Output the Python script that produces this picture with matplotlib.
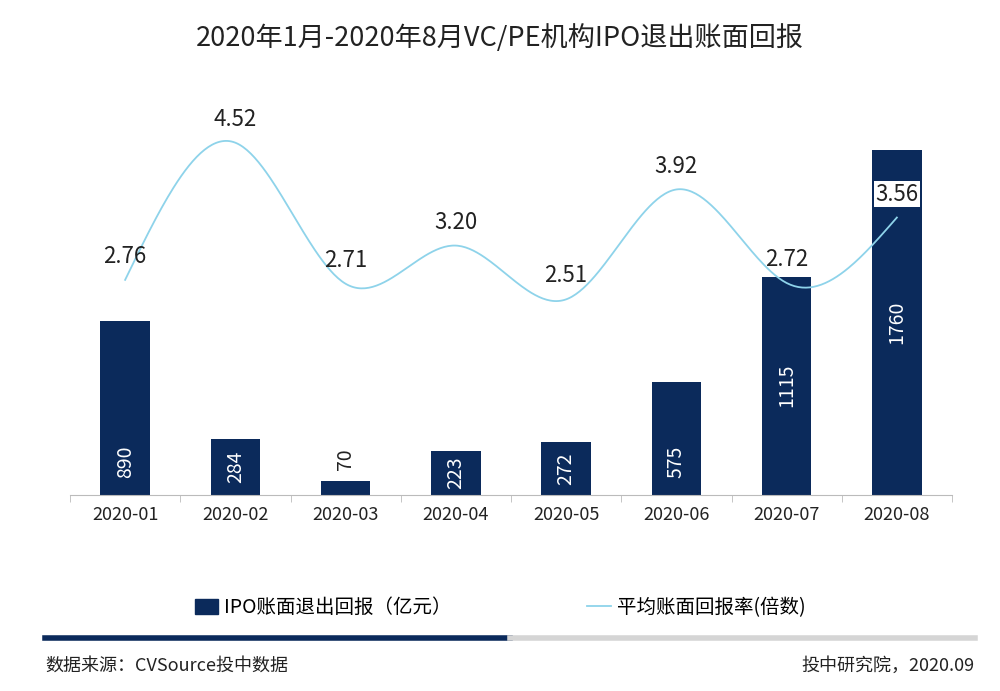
import numpy as np
import matplotlib
matplotlib.use("Agg")
import matplotlib.pyplot as plt
from matplotlib.lines import Line2D
from matplotlib.patches import Patch

plt.rcParams['font.family'] = ['Noto Sans CJK SC', 'DejaVu Sans']

months = ["2020-01","2020-02","2020-03","2020-04","2020-05","2020-06","2020-07","2020-08"]
ipo_return = [890, 284, 70, 223, 272, 575, 1115, 1760]
avg_rate = [2.76, 4.52, 2.71, 3.20, 2.51, 3.92, 2.72, 3.56]

BAR = "#0b2a5b"
LINE = "#8ed3ea"

fig = plt.figure(figsize=(10, 6.91), dpi=100)
ax = fig.add_axes([0.07, 0.2837, 0.882, 0.600])
x = np.arange(len(months))
ax.bar(x, ipo_return, width=0.45, color=BAR)
ax.set_ylim(0, 2117)
ax.set_xlim(-0.5, 7.5)
for s in ["top", "right", "left"]:
    ax.spines[s].set_visible(False)
ax.spines["bottom"].set_color("#bbbbbb")
ax.set_yticks([])
ax.set_xticks(x)
ax.set_xticklabels(months, fontsize=13, color="#222222")
ax.set_xticks(np.arange(-0.5, 8, 1), minor=True)
ax.tick_params(axis="x", which="major", length=0, pad=8)
ax.tick_params(axis="x", which="minor", length=5, color="#bbbbbb")
for xi, v in zip(x, ipo_return):
    if v < 150:
        ax.text(xi, v + 60, str(v), rotation=90, ha="center", va="bottom", fontsize=14, color="#222222")
    else:
        ax.text(xi, min(v / 2, 170 if v < 1000 else v / 2), str(v), rotation=90, ha="center", va="center",
                fontsize=14, color="white")

# natural cubic spline for smooth line rendering
def spline(xs, ys, n=400):
    xs = np.asarray(xs, float); ys = np.asarray(ys, float)
    N = len(xs); h = np.diff(xs)
    A = np.zeros((N, N)); r = np.zeros(N)
    A[0, 0] = A[-1, -1] = 1
    for i in range(1, N - 1):
        A[i, i - 1] = h[i - 1]; A[i, i] = 2 * (h[i - 1] + h[i]); A[i, i + 1] = h[i]
        r[i] = 3 * ((ys[i + 1] - ys[i]) / h[i] - (ys[i] - ys[i - 1]) / h[i - 1])
    c = np.linalg.solve(A, r)
    xx = np.linspace(xs[0], xs[-1], n); yy = np.empty_like(xx)
    for k, t in enumerate(xx):
        i = min(np.searchsorted(xs, t, side="right") - 1, N - 2)
        d = t - xs[i]
        b = (ys[i + 1] - ys[i]) / h[i] - h[i] * (c[i + 1] + 2 * c[i]) / 3
        dd = (c[i + 1] - c[i]) / (3 * h[i])
        yy[k] = ys[i] + b * d + c[i] * d ** 2 + dd * d ** 3
    return xx, yy

ax2 = ax.twinx()
ax2.set_ylim(0, 5.32)
ax2.axis("off")
sx, sy = spline(x, avg_rate)
ax2.plot(sx, sy, color=LINE, lw=1.3)
for i, (xi, v) in enumerate(zip(x, avg_rate)):
    kw = {}
    if i == len(x) - 1:
        kw = dict(bbox=dict(facecolor="white", edgecolor="none", pad=1))
    ax2.text(xi, v + 0.3, f"{v:.2f}", ha="center", va="center", fontsize=16, color="#222222", **kw)

fig.text(0.5, 0.945, "2020年1月-2020年8月VC/PE机构IPO退出账面回报", ha="center", va="center",
         fontsize=19.5, color="#222222")

handles = [Patch(color=BAR), Line2D([0], [0], color=LINE, lw=1.3)]
fig.legend(handles, ["IPO账面退出回报（亿元）", "平均账面回报率(倍数)"], loc="center",
           bbox_to_anchor=(0.5, 0.121), ncol=2, frameon=False, fontsize=14,
           handlelength=1.2, handleheight=0.8, handletextpad=0.3, columnspacing=7)

fig.add_artist(Line2D([0.045, 0.51], [0.077, 0.077], color=BAR, lw=4))
fig.add_artist(Line2D([0.51, 0.975], [0.077, 0.077], color="#d5d5d5", lw=4))
fig.text(0.045, 0.037, "数据来源：CVSource投中数据", fontsize=13, va="center", color="#222222")
fig.text(0.975, 0.037, "投中研究院，2020.09", fontsize=13, va="center", ha="right", color="#222222")

fig.savefig("out.png", dpi=100)
